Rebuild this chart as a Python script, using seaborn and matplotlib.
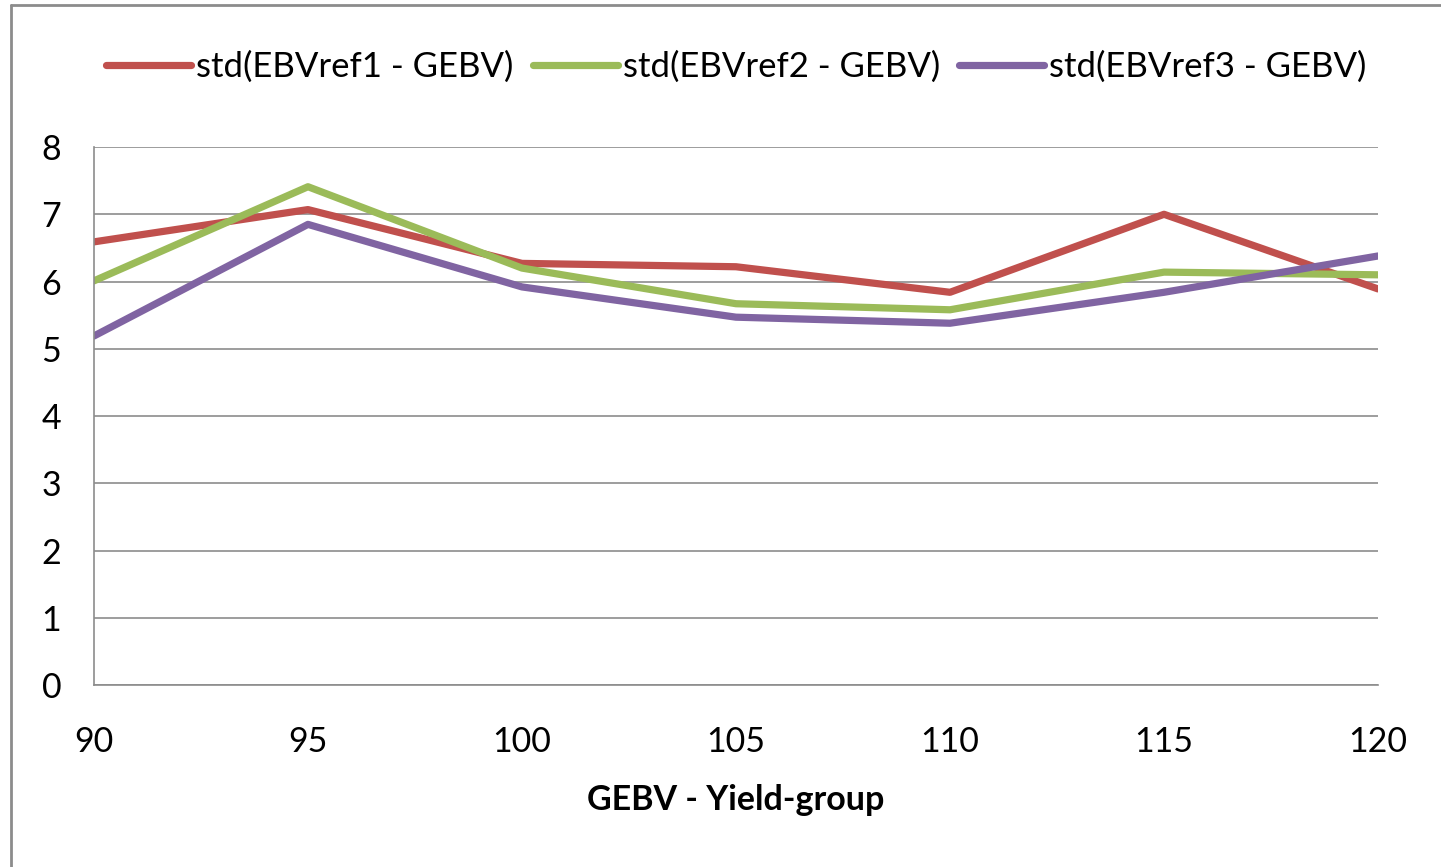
import matplotlib
matplotlib.use("Agg")
import matplotlib.pyplot as plt
import seaborn as sns
import pandas as pd
from matplotlib.lines import Line2D

# data
groups = [90, 95, 100, 105, 110, 115, 120]
ref1 = [6.59, 7.07, 6.27, 6.22, 5.84, 7.00, 5.89]
ref2 = [6.01, 7.41, 6.20, 5.67, 5.58, 6.14, 6.10]
ref3 = [5.19, 6.85, 5.92, 5.47, 5.38, 5.84, 6.38]
labels = ["std(EBVref1 - GEBV)", "std(EBVref2 - GEBV)", "std(EBVref3 - GEBV)"]
colors = ["#C0504D", "#9BBB59", "#8064A2"]

df = pd.DataFrame({
    "group": groups * 3,
    "value": ref1 + ref2 + ref3,
    "series": [labels[0]] * 7 + [labels[1]] * 7 + [labels[2]] * 7,
})

sns.set_theme(style="white")
plt.rcParams["font.family"] = ["Lato", "DejaVu Sans"]
plt.rcParams["text.color"] = "black"
plt.rcParams["axes.labelcolor"] = "black"

fig = plt.figure(figsize=(14.41, 8.67), dpi=100)
ax = fig.add_axes([0.0652, 0.2099, 0.8911, 0.6205])

sns.lineplot(data=df, x="group", y="value", hue="series", palette=colors,
             linewidth=5.2, ax=ax, legend=False)

ax.set_xlim(90, 120)
ax.set_ylim(0, 8)
ax.set_xticks(groups)
ax.set_yticks(range(0, 9))
ax.grid(axis="y", color="#8c8c8c", linewidth=1.2)
ax.grid(axis="x", visible=False)
ax.set_axisbelow(True)
for s in ["top", "right"]:
    ax.spines[s].set_visible(False)
for s in ["left", "bottom"]:
    ax.spines[s].set_color("#8c8c8c")
    ax.spines[s].set_linewidth(1.2)
ax.tick_params(axis="both", direction="out", length=7.5, width=1.2,
               color="#8c8c8c", labelsize=24.5, labelcolor="#000000")
ax.tick_params(axis="y", pad=16)
ax.tick_params(axis="x", pad=22)
ax.set_ylabel("")
ax.set_xlabel("GEBV - Yield-group", fontsize=24.5, fontweight="bold",
              labelpad=19, color="black")

handles = [Line2D([], [], color=c, linewidth=5.2, solid_capstyle="round") for c in colors]
fig.legend(handles, labels, loc="center", bbox_to_anchor=(0.511, 0.923), ncol=3,
           frameon=False, fontsize=25, handlelength=2.45, handletextpad=0.15,
           columnspacing=0.55, labelcolor="black")

# outer chart border (left and top edges visible)
fig.add_artist(Line2D([0.0075, 0.0075], [0, 0.994], color="#8c8c8c", linewidth=2,
                      transform=fig.transFigure))
fig.add_artist(Line2D([0.0075, 1], [0.994, 0.994], color="#8c8c8c", linewidth=2,
                      transform=fig.transFigure))

fig.savefig("out.png", dpi=100, facecolor="white")
